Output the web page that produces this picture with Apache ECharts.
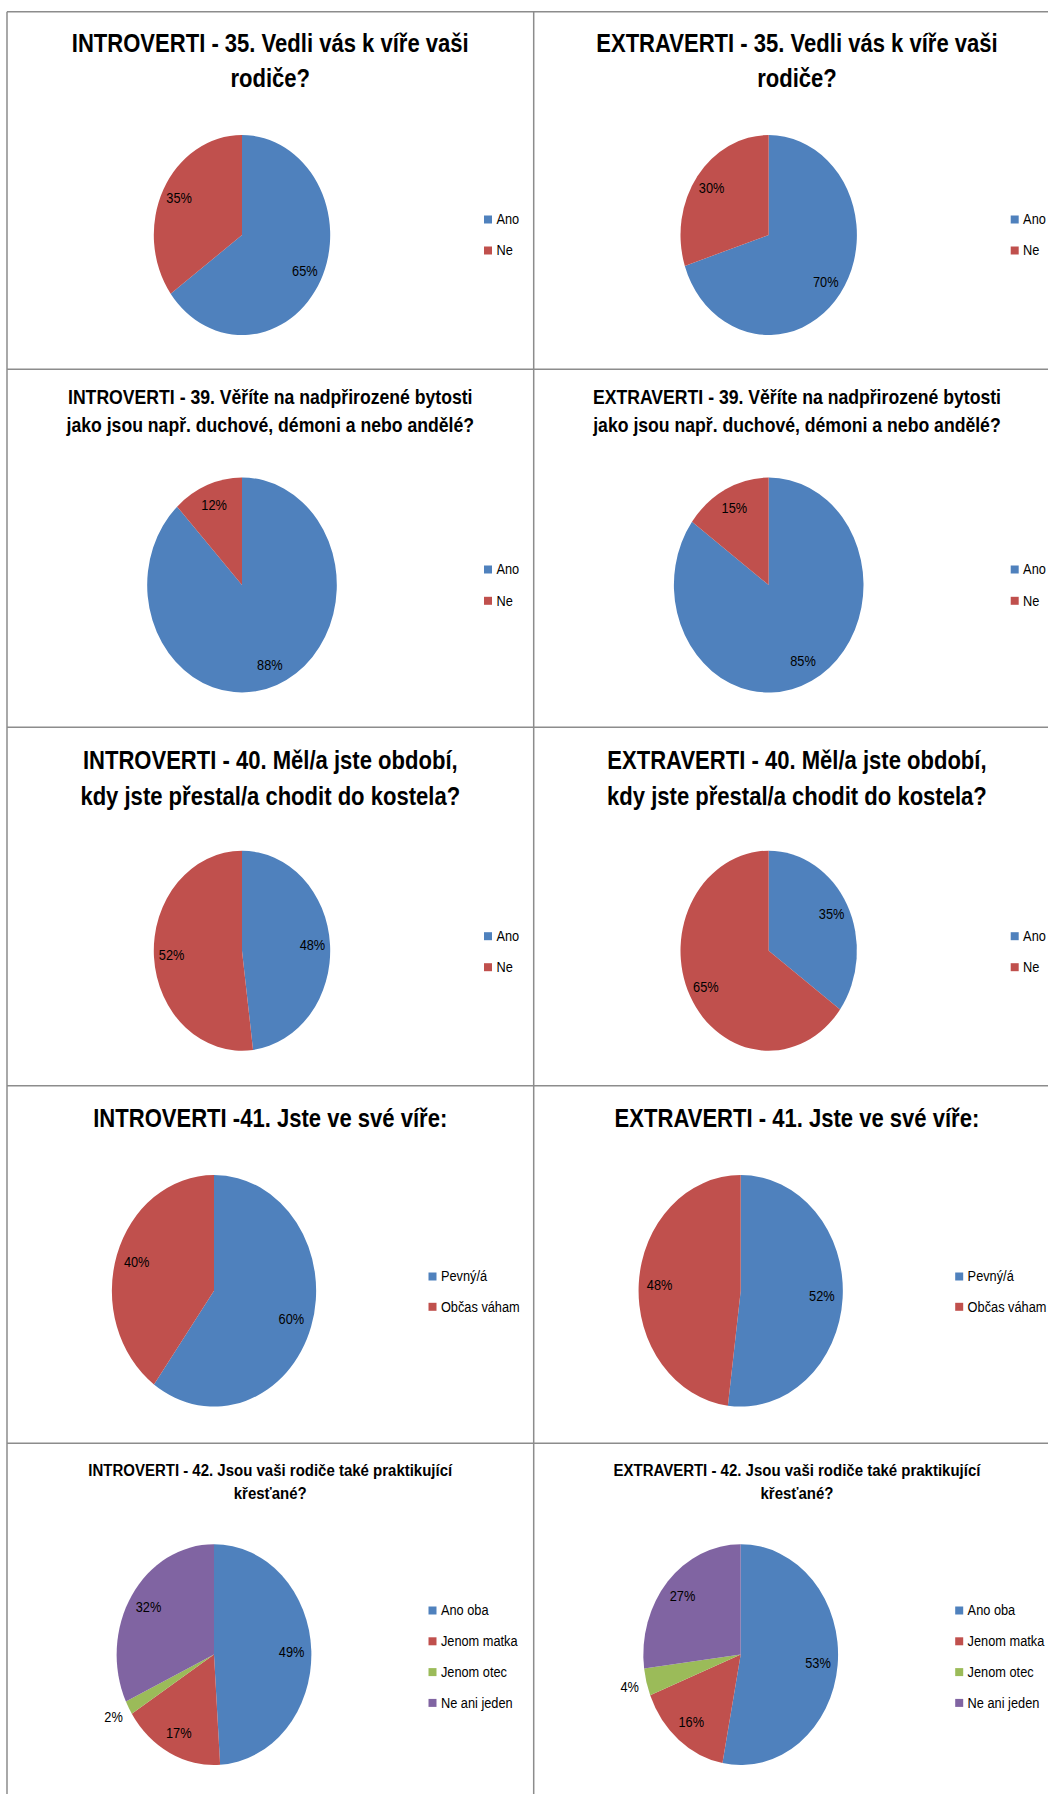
<!DOCTYPE html>
<html lang="cs">
<head>
<meta charset="utf-8">
<title>Introverti / Extraverti</title>
<script src="https://cdn.jsdelivr.net/npm/echarts@6.0.0/dist/echarts.min.js"></script>
<style>
html, body { margin:0; padding:0; background:#ffffff; overflow:hidden; }
#wrap { width:1048px; height:1794px; overflow:hidden; position:relative; }
#chart { width:1189px; height:1794px; transform:scaleX(0.882); transform-origin:0 0; }
</style>
</head>
<body>
<div id="wrap"><div id="chart"></div></div>
<script>
// ---------------- data ----------------
const q35Categories = ['Ano', 'Ne'];
const q35Introverti = [65, 35];
const q35Extraverti = [70, 30];

const q39Categories = ['Ano', 'Ne'];
const q39Introverti = [88, 12];
const q39Extraverti = [85, 15];

const q40Categories = ['Ano', 'Ne'];
const q40Introverti = [48, 52];
const q40Extraverti = [35, 65];

const q41Categories = ['Pevný/á', 'Občas váham'];
const q41Introverti = [60, 40];
const q41Extraverti = [52, 48];

const q42Categories = ['Ano oba', 'Jenom matka', 'Jenom otec', 'Ne ani jeden'];
const q42Introverti = [49, 17, 2, 32];
const q42Extraverti = [53, 16, 4, 27];

const titlesIntroverti = [
  'INTROVERTI - 35. Vedli vás k víře vaši\nrodiče?',
  'INTROVERTI - 39. Věříte na nadpřirozené bytosti\njako jsou např. duchové, démoni a nebo andělé?',
  'INTROVERTI - 40. Měl/a jste období,\nkdy jste přestal/a chodit do kostela?',
  'INTROVERTI -41. Jste ve své víře:',
  'INTROVERTI - 42. Jsou vaši rodiče také praktikující\nkřesťané?'
];
const titlesExtraverti = [
  'EXTRAVERTI - 35. Vedli vás k víře vaši\nrodiče?',
  'EXTRAVERTI - 39. Věříte na nadpřirozené bytosti\njako jsou např. duchové, démoni a nebo andělé?',
  'EXTRAVERTI - 40. Měl/a jste období,\nkdy jste přestal/a chodit do kostela?',
  'EXTRAVERTI - 41. Jste ve své víře:',
  'EXTRAVERTI - 42. Jsou vaši rodiče také praktikující\nkřesťané?'
];

const questions = [
  { cats: q35Categories, vals: [q35Introverti, q35Extraverti] },
  { cats: q39Categories, vals: [q39Introverti, q39Extraverti] },
  { cats: q40Categories, vals: [q40Introverti, q40Extraverti] },
  { cats: q41Categories, vals: [q41Introverti, q41Extraverti] },
  { cats: q42Categories, vals: [q42Introverti, q42Extraverti] }
];

// ---------------- layout / style ----------------
const SX = 0.882;                 // horizontal squeeze of the whole sheet
const px = v => v / SX;           // page x -> chart x
const CW = 1189;
const FONT = '"Liberation Sans", Arial, sans-serif';
const sliceColors = ['#4F81BD', '#C0504D', '#9BBB59', '#8064A2'];
const lineColor = '#8c8c8c';
const cellLeft = [7, 533.7];
const cellWidth = 526.5;
const rowLines = [11.7, 369.3, 727.3, 1085.7, 1443.3];
const layout = [
  { pieDx: 235, cy: 235,    r: 100,   tFont: 25, tLH: 35,   tTop: 26.5,   legDx: 477,   legY: 219,    legPitch: 30 },
  { pieDx: 235, cy: 585,    r: 107.5, tFont: 20, tLH: 27.7, tTop: 383.7,  legDx: 477,   legY: 569,    legPitch: 30.3 },
  { pieDx: 235, cy: 950.7,  r: 100,   tFont: 25, tLH: 35.7, tTop: 742.6,  legDx: 477,   legY: 935.7,  legPitch: 30 },
  { pieDx: 207, cy: 1290.8, r: 115.8, tFont: 25, tLH: 35,   tTop: 1101,   legDx: 421.5, legY: 1276,   legPitch: 29.3 },
  { pieDx: 207, cy: 1654.6, r: 110.4, tFont: 17, tLH: 23.6, tTop: 1457.7, legDx: 421.5, legY: 1610,   legPitch: 29.8 }
];

const titles = [], legends = [], series = [];
questions.forEach((q, ri) => {
  const L = layout[ri];
  [0, 1].forEach(ci => {
    const x0 = cellLeft[ci];
    const vals = q.vals[ci];
    const center = [px(x0 + L.pieDx), L.cy];

    titles.push({
      text: (ci === 0 ? titlesIntroverti : titlesExtraverti)[ri],
      left: px(x0 + cellWidth / 2),
      top: L.tTop,
      textAlign: 'center',
      textVerticalAlign: 'top',
      padding: 0,
      textStyle: { fontFamily: FONT, fontWeight: 'bold', fontSize: L.tFont, lineHeight: L.tLH, color: '#000' }
    });

    legends.push({
      orient: 'vertical',
      left: px(x0 + L.legDx),
      top: L.legY - 7,
      padding: 0,
      itemWidth: 8 / SX,
      itemHeight: 8,
      itemGap: L.legPitch - 14,
      icon: 'rect',
      selectedMode: false,
      data: q.cats,
      itemStyle: { borderWidth: 0 },
      textStyle: { fontFamily: FONT, fontSize: 14.5, lineHeight: 14, color: '#000' }
    });

    // visible pie
    series.push({
      type: 'pie',
      center: center,
      radius: L.r,
      startAngle: 90,
      clockwise: true,
      silent: true,
      emphasis: { disabled: true },
      itemStyle: { borderWidth: 0 },
      label: { show: false },
      labelLine: { show: false },
      data: q.cats.map((name, i) => ({ name: name, value: vals[i], itemStyle: { color: sliceColors[i] } }))
    });

    // transparent ring carrying the inside percentage labels
    series.push({
      type: 'pie',
      center: center,
      radius: [0.54 * L.r, L.r],
      startAngle: 90,
      clockwise: true,
      silent: true,
      avoidLabelOverlap: false,
      emphasis: { disabled: true },
      itemStyle: { color: 'rgba(0,0,0,0)', borderWidth: 0 },
      label: { show: true, position: 'inside', formatter: '{c}%', fontFamily: FONT, fontSize: 14.5, color: '#000' },
      labelLine: { show: false },
      data: q.cats.map((name, i) => ({ name: name, value: vals[i], label: { show: vals[i] >= 5 } }))
    });

    // outer transparent ring for the labels of very thin slices
    if (vals.some(v => v < 5)) {
      series.push({
        type: 'pie',
        center: center,
        radius: [L.r, 1.3 * L.r],
        startAngle: 90,
        clockwise: true,
        silent: true,
        avoidLabelOverlap: false,
        emphasis: { disabled: true },
        itemStyle: { color: 'rgba(0,0,0,0)', borderWidth: 0 },
        label: { show: true, position: 'inside', formatter: '{c}%', fontFamily: FONT, fontSize: 14.5, color: '#000' },
        labelLine: { show: false },
        data: q.cats.map((name, i) => ({ name: name, value: vals[i], label: { show: vals[i] < 5 } }))
      });
    }
  });
});

const gridEls = [];
rowLines.forEach(y => gridEls.push({
  type: 'line', silent: true, z: 0,
  shape: { x1: px(cellLeft[0]), y1: y, x2: CW, y2: y },
  style: { stroke: lineColor, lineWidth: 1.5 }
}));
cellLeft.forEach(x => gridEls.push({
  type: 'line', silent: true, z: 0,
  shape: { x1: px(x), y1: rowLines[0], x2: px(x), y2: 1794 },
  style: { stroke: lineColor, lineWidth: 1.5 / SX }
}));

const chart = echarts.init(document.getElementById('chart'), null, { renderer: 'svg' });
chart.setOption({
  animation: false,
  backgroundColor: '#ffffff',
  title: titles,
  legend: legends,
  tooltip: { show: false },
  graphic: { elements: gridEls },
  series: series
});
</script>
</body>
</html>
